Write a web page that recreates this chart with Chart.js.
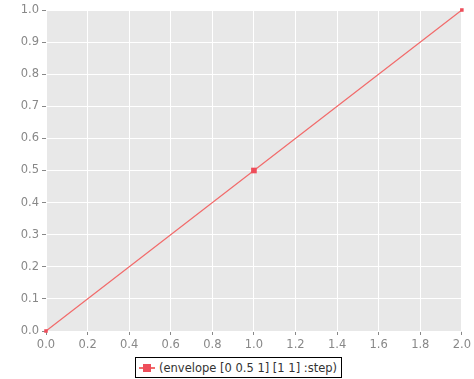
<!DOCTYPE html>
<html>
<head>
<meta charset="utf-8">
<script src="https://cdn.jsdelivr.net/npm/chart.js@4"></script>
<style>
  html, body { margin: 0; padding: 0; background: #fff; }
  #wrap { position: relative; width: 474px; height: 379px; }
  #legend {
    position: absolute; left: 135px; top: 357px; height: 21px;
    border: 1px solid #000; background: #fff;
    font: 11.5px "DejaVu Sans", sans-serif; color: #333;
    display: flex; align-items: center; padding: 0 4px 0 3px; box-sizing: border-box;
  }
  #legend .mk { position: relative; width: 16px; height: 8px; margin-right: 4px; }
  #legend .mk:before { content: ''; position: absolute; left: 0; right: 0; top: 3px; height: 2px; background: #f26b6b; }
  #legend .mk:after { content: ''; position: absolute; left: 4px; top: 0; width: 8px; height: 8px; background: #ee4d5a; }
</style>
</head>
<body>
<div id="wrap">
  <canvas id="chart" width="474" height="379"></canvas>
  <div id="legend"><span class="mk"></span><span id="legendText"></span></div>
</div>
<script>
// Data
const seriesName = '(envelope [0 0.5 1] [1 1] :step)';
const xValues = [0, 1, 2];
const yValues = [0, 0.5, 1];
const pointSizes = [2.5, 4, 2.5];

const lineColor = '#f26b6b';
const pointColor = '#ee4d5a';
const tickColor = '#888';

// Grey panel behind the plot
const panelBackground = {
    id: 'panelBackground',
    beforeDraw(chart) {
        const a = chart.chartArea;
        const ctx = chart.ctx;
        ctx.save();
        ctx.fillStyle = '#e8e8e8';
        ctx.fillRect(a.left, a.top, a.right - a.left, a.bottom - a.top);
        ctx.restore();
    }
};

document.getElementById('legendText').textContent = seriesName;

new Chart(document.getElementById('chart').getContext('2d'), {
    type: 'scatter',
    data: {
        datasets: [{
            label: seriesName,
            data: xValues.map((x, i) => ({ x: x, y: yValues[i] })),
            showLine: true,
            clip: false,
            borderColor: lineColor,
            borderWidth: 1.2,
            backgroundColor: pointColor,
            pointBackgroundColor: pointColor,
            pointBorderWidth: 0,
            pointStyle: 'rect',
            pointRadius: pointSizes
        }]
    },
    options: {
        responsive: false,
        animation: false,
        layout: { padding: { top: 10, right: 12, left: 0, bottom: 0 } },
        plugins: { legend: { display: false }, tooltip: { enabled: false } },
        scales: {
            x: {
                type: 'linear',
                min: 0, max: 2,
                afterFit(scale) { scale.height = 48; },
                border: { display: false },
                grid: { color: '#ffffff', lineWidth: 1, tickColor: tickColor, tickLength: 4 },
                ticks: {
                    stepSize: 0.2, color: tickColor, padding: 3,
                    font: { family: 'DejaVu Sans', size: 11.5 },
                    callback: v => v.toFixed(1)
                }
            },
            y: {
                min: 0, max: 1,
                afterFit(scale) { scale.width = 46; },
                border: { display: false },
                grid: { color: '#ffffff', lineWidth: 1, tickColor: tickColor, tickLength: 4 },
                ticks: {
                    stepSize: 0.1, color: tickColor, padding: 3,
                    font: { family: 'DejaVu Sans', size: 11.5 },
                    callback: v => v.toFixed(1)
                }
            }
        }
    },
    plugins: [panelBackground]
});
</script>
</body>
</html>
